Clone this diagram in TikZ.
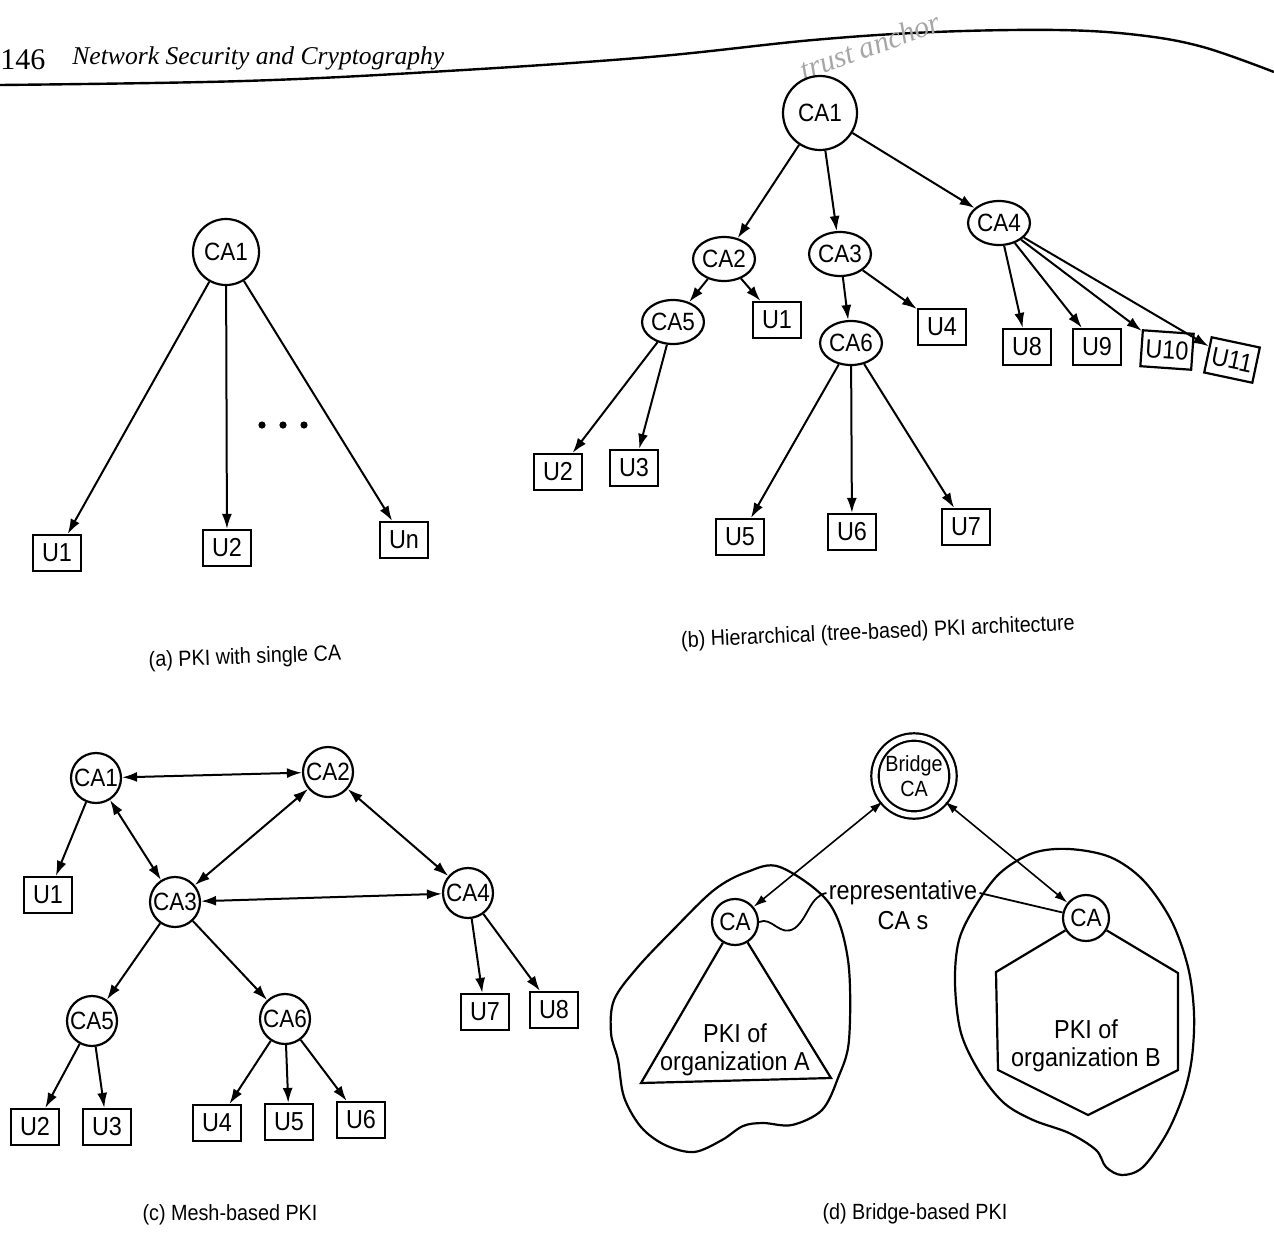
\documentclass[tikz,border=0pt]{standalone}
\usepackage{fontspec}
\setmainfont{Liberation Sans}
\newfontfamily\cond[FakeStretch=0.9]{Liberation Sans}
\newfontfamily\headfont{Liberation Serif}
\usetikzlibrary{arrows.meta,shapes.geometric}
\begin{document}
\begin{tikzpicture}[x=0.5pt,y=-0.5pt,
  ink/.style={line width=1.1pt},
  canode/.style={circle,draw,ink,inner sep=0pt,minimum size=25pt,font=\cond\fontsize{12.5}{13}\selectfont},
  caoval/.style={ellipse,draw,ink,inner sep=0pt,minimum width=26pt,minimum height=22pt,font=\cond\fontsize{12.5}{13}\selectfont},
  userbox/.style={rectangle,draw,ink,inner sep=2pt,minimum width=24pt,minimum height=18pt,font=\cond\fontsize{13}{14}\selectfont},
  arr/.style={line width=1pt,-{Latex[length=7.5pt,width=5pt]}},
  darr/.style={line width=1pt,{Latex[length=7.5pt,width=5pt]}-{Latex[length=7.5pt,width=5pt]}},
  thinarr/.style={line width=0.8pt,{Latex[length=6.5pt,width=4.2pt]}-{Latex[length=6.5pt,width=4.2pt]}},
  caption/.style={font=\cond\fontsize{11}{12}\selectfont},
  body/.style={font=\cond\fontsize{13}{14}\selectfont,align=center},
  pencil/.style={gray!70,font=\headfont\itshape\fontsize{15}{16}\selectfont}
]
\useasboundingbox (0,0) rectangle (1274,1232);

% running head
\node[anchor=west,inner sep=0pt,font=\headfont\fontsize{15}{16}\selectfont] (pageno) at (0,60) {146};
\node[anchor=west,inner sep=0pt,font=\headfont\itshape\fontsize{12.8}{15}\selectfont] (booktitle) at (72,58) {Network Security and Cryptography};
\draw[line width=1.2pt] plot[smooth,tension=0.6] coordinates {(0,85) (244,81) (447,71) (650,57) (813,40) (935,32) (1057,30) (1138,35) (1203,47) (1274,72)};
\node[pencil,rotate=20] (pen) at (870,46) {trust anchor};

% (a) single CA
\node[canode,minimum size=33pt] (aCA) at (226,252) {CA1};
\node[userbox] (aU1) at (57,553) {U1};
\node[userbox] (aU2) at (227,548) {U2};
\node[userbox] (aUn) at (404,540) {Un};
\foreach \x in {262,283,304} \fill (\x,425) circle (1.8pt);
\draw[arr] (aCA) -- (aU1);
\draw[arr] (aCA) -- (aU2);
\draw[arr] (aCA) -- (aUn);
\node[caption,rotate=2] (capa) at (245,658) {(a) PKI with single CA};

% (b) hierarchical tree
\node[canode,minimum size=37pt] (bCA1) at (820,113) {CA1};
\node[caoval] (bCA2) at (724,259) {CA2};
\node[caoval] (bCA3) at (840,254) {CA3};
\node[caoval] (bCA4) at (999,223) {CA4};
\node[caoval] (bCA5) at (673,322) {CA5};
\node[caoval] (bCA6) at (851,343) {CA6};
\node[userbox] (bU1) at (777,320) {U1};
\node[userbox] (bU4) at (942,327) {U4};
\node[userbox] (bU8) at (1027,347) {U8};
\node[userbox] (bU9) at (1097,347) {U9};
\node[userbox,rotate=-4] (bU10) at (1167,350) {U10};
\node[userbox,rotate=-12] (bU11) at (1232,360) {U11};
\node[userbox] (bU2) at (558,472) {U2};
\node[userbox] (bU3) at (634,468) {U3};
\node[userbox] (bU5) at (740,537) {U5};
\node[userbox] (bU6) at (852,532) {U6};
\node[userbox] (bU7) at (966,527) {U7};
\foreach \s/\t in {bCA1/bCA2,bCA1/bCA3,bCA1/bCA4,bCA2/bCA5,bCA2/bU1,bCA3/bCA6,bCA3/bU4,
                   bCA4/bU8,bCA4/bU9,bCA4/bU10,bCA4/bU11,bCA5/bU2,bCA5/bU3,bCA6/bU5,bCA6/bU6,bCA6/bU7}
  \draw[arr] (\s) -- (\t);
\node[caption,rotate=2.5] (capb) at (878,633) {(b) Hierarchical (tree-based) PKI architecture};

% (c) mesh
\node[canode] (cCA1) at (96,778) {CA1};
\node[canode] (cCA2) at (328,772) {CA2};
\node[canode] (cCA3) at (175,902) {CA3};
\node[canode] (cCA4) at (468,893) {CA4};
\node[canode] (cCA5) at (92,1021) {CA5};
\node[canode] (cCA6) at (285,1019) {CA6};
\node[userbox] (cU1) at (48,895) {U1};
\node[userbox] (cU7) at (485,1012) {U7};
\node[userbox] (cU8) at (554,1010) {U8};
\node[userbox] (cU2) at (35,1127) {U2};
\node[userbox] (cU3) at (107,1127) {U3};
\node[userbox] (cU4) at (217,1123) {U4};
\node[userbox] (cU5) at (289,1122) {U5};
\node[userbox] (cU6) at (361,1120) {U6};
\foreach \s/\t in {cCA1/cCA2,cCA1/cCA3,cCA2/cCA3,cCA2/cCA4,cCA3/cCA4}
  \draw[darr] (\s) -- (\t);
\foreach \s/\t in {cCA1/cU1,cCA3/cCA5,cCA3/cCA6,cCA4/cU7,cCA4/cU8,cCA5/cU2,cCA5/cU3,cCA6/cU4,cCA6/cU5,cCA6/cU6}
  \draw[arr] (\s) -- (\t);
\node[caption] (capc) at (230,1215) {(c) Mesh-based PKI};

% (d) bridge
\draw[ink] plot[smooth cycle,tension=0.55] coordinates {
  (780,867) (829,903) (848,960) (849,1040) (838,1078) (822,1110) (792,1125) (763,1123)
  (743,1126) (722,1140) (694,1152) (665,1145) (641,1127) (624,1097) (618,1060) (611,1033)
  (614,1000) (637,968) (673,930) (714,890) (747,872)};
\draw[ink] plot[smooth cycle,tension=0.55] coordinates {
  (1033,853) (1069,849) (1110,857) (1143,880) (1171,920) (1188,967) (1194,1013) (1192,1057)
  (1184,1093) (1167,1133) (1143,1167) (1122,1175) (1106,1167) (1096,1150) (1069,1133)
  (1033,1120) (1004,1103) (980,1073) (961,1033) (955,983) (959,940) (976,905) (1000,873)};
\node[canode,double,double distance=2.6pt,minimum size=39pt,align=center,
      font=\cond\fontsize{11}{12.5}\selectfont] (bridge) at (914,776) {Bridge\\CA};
\node[canode,minimum size=23pt] (dCAL) at (735,922) {CA};
\node[canode,minimum size=23pt] (dCAR) at (1086,918) {CA};
\draw[ink] (dCAL) -- (641,1083) -- (831,1078) -- (dCAL);
\draw[ink] (dCAR) -- (996,972) -- (998,1070) -- (1088,1115) -- (1178,1070) -- (1178,973) -- (dCAR);
\node[body] (orgA) at (735,1050) {PKI of\\organization A};
\node[body] (orgB) at (1086,1046) {PKI of\\organization B};
\node[body,inner sep=1pt] (rep) at (903,893) {representative};
\node[body,inner sep=1pt] (cas) at (903,921) {CA s};
\draw[line width=0.9pt] (dCAL.east) .. controls (772,916) and (780,938) .. (795,928)
  .. controls (808,918) and (810,896) .. (rep.west);
\draw[line width=0.9pt] (rep.east) -- (dCAR);
\draw[thinarr] (bridge) -- (dCAL);
\draw[thinarr] (bridge) -- (dCAR);
\node[caption] (capd) at (915,1214) {(d) Bridge-based PKI};
\end{tikzpicture}
\end{document}
